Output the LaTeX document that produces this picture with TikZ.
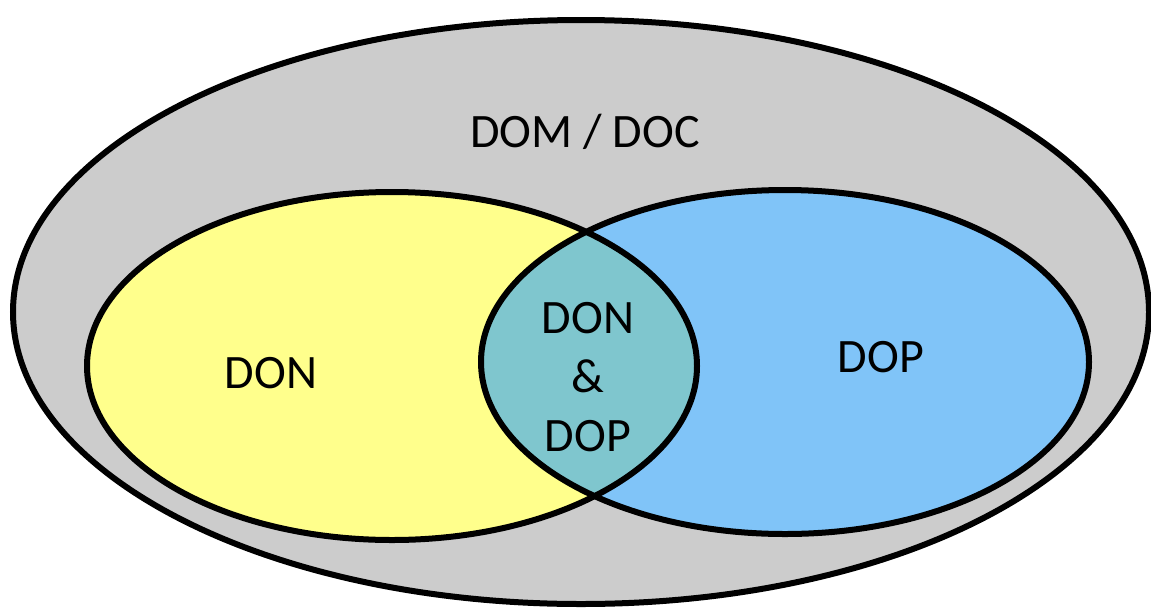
\documentclass[tikz,border=0pt]{standalone}
\usepackage{fontspec}
\setmainfont{Carlito}
\definecolor{outerfill}{RGB}{204,204,204}
\definecolor{donfill}{RGB}{255,255,140}
\definecolor{dopfill}{RGB}{128,196,248}
\definecolor{lensfill}{RGB}{127,198,206}
\tikzset{
  ring/.style={draw=black, line width=6pt},
  lbl/.style={font=\fontsize{48}{59}\selectfont, text=black, inner sep=0pt, align=center}
}
\begin{document}
\begin{tikzpicture}[x=1pt,y=-1pt]
\useasboundingbox (0,0) rectangle (1151,611);
% outer set
\filldraw[ring, fill=outerfill] (581,312) ellipse [x radius=568, y radius=292];
% fills
\fill[donfill] (392,366) ellipse [x radius=305, y radius=174];
\fill[dopfill] (785,362) ellipse [x radius=304, y radius=172];
\begin{scope}
  \clip (392,366) ellipse [x radius=305, y radius=174];
  \fill[lensfill] (785,362) ellipse [x radius=304, y radius=172];
\end{scope}
% outlines
\draw[ring] (392,366) ellipse [x radius=305, y radius=174];
\draw[ring] (785,362) ellipse [x radius=304, y radius=172];
% labels
\node[lbl] (dom) at (585,132) {DOM / DOC};
\node[lbl] (don) at (271,373) {DON};
\node[lbl] (dop) at (881,357) {DOP};
\node[lbl] (both) at (588,377) {DON\\\&\\DOP};
\end{tikzpicture}
\end{document}
